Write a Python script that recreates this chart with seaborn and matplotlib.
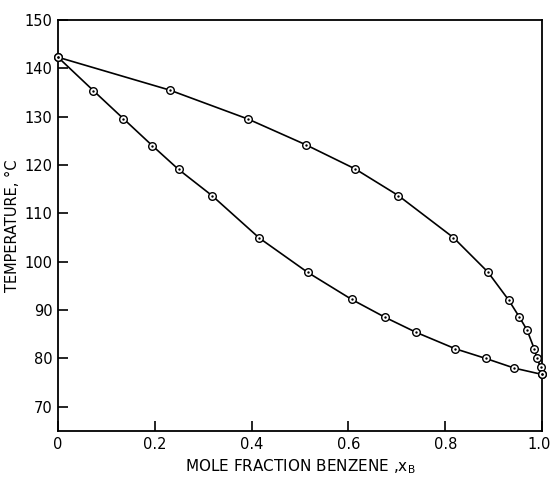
import matplotlib
matplotlib.use("Agg")
import matplotlib.pyplot as plt
import matplotlib.transforms as mtransforms
import seaborn as sns
import pandas as pd

# Vapour (dew) curve
x_vapor = [0.0, 0.231, 0.393, 0.512, 0.614, 0.703, 0.817, 0.888, 0.931, 0.953, 0.969, 0.984, 0.989, 0.997, 1.0]
t_vapor = [142.3, 135.5, 129.5, 124.2, 119.2, 113.7, 105.0, 97.9, 92.1, 88.6, 85.9, 82.0, 80.2, 78.2, 76.7]

# Liquid (bubble) curve
x_liquid = [0.0, 0.073, 0.135, 0.195, 0.249, 0.318, 0.416, 0.516, 0.607, 0.676, 0.740, 0.821, 0.884, 0.943, 1.0]
t_liquid = [142.3, 135.4, 129.6, 124.0, 119.1, 113.7, 104.9, 97.8, 92.2, 88.5, 85.4, 82.0, 80.0, 78.0, 76.7]

x_ticks = [0.0, 0.2, 0.4, 0.6, 0.8, 1.0]
x_ticklabels = ["0", "0.2", "0.4", "0.6", "0.8", "1.0"]
y_ticks = [70, 80, 90, 100, 110, 120, 130, 140, 150]

sns.set_style("ticks")
plt.rcParams['font.family'] = ['DejaVu Sans']
plt.rcParams['text.color'] = 'black'
plt.rcParams['axes.labelcolor'] = 'black'

fig = plt.figure(figsize=(5.51, 4.79), dpi=100)
ax = fig.add_axes([58/551, 1 - 431/479, 484/551, 411/479])

vap = pd.DataFrame({"x": x_vapor, "T": t_vapor})
liq = pd.DataFrame({"x": x_liquid, "T": t_liquid})

for df in (vap, liq):
    sns.lineplot(data=df, x="x", y="T", sort=False, color="black", linewidth=1.2, ax=ax)
    sns.scatterplot(data=df, x="x", y="T", marker="o", s=30, facecolor="white",
                    edgecolor="black", linewidth=1.0, ax=ax, zorder=3, clip_on=False)
    sns.scatterplot(data=df, x="x", y="T", marker="o", s=3, color="black",
                    linewidth=0, ax=ax, zorder=4, clip_on=False)

ax.set_xlim(0, 1.0)
ax.set_ylim(65, 150)
ax.set_xticks(x_ticks)
ax.set_xticklabels(x_ticklabels)
ax.set_yticks(y_ticks)
ax.tick_params(axis="both", direction="in", length=7, width=1.2, labelsize=10.5,
               pad=4, colors="black", labelcolor="black")
for sp in ax.spines.values():
    sp.set_linewidth(1.3)
    sp.set_color("black")
    sp.set_visible(True)

# nudge the last x tick label so it stays inside the figure
last = ax.get_xticklabels()[-1]
last.set_transform(last.get_transform() + mtransforms.ScaledTranslation(-3/100, 0, fig.dpi_scale_trans))

ax.set_xlabel("MOLE FRACTION BENZENE ,$\\mathregular{x_B}$", fontsize=11, labelpad=4)
ax.set_ylabel("TEMPERATURE, °C", fontsize=10.5, labelpad=3)

fig.savefig("out.png", dpi=100)
